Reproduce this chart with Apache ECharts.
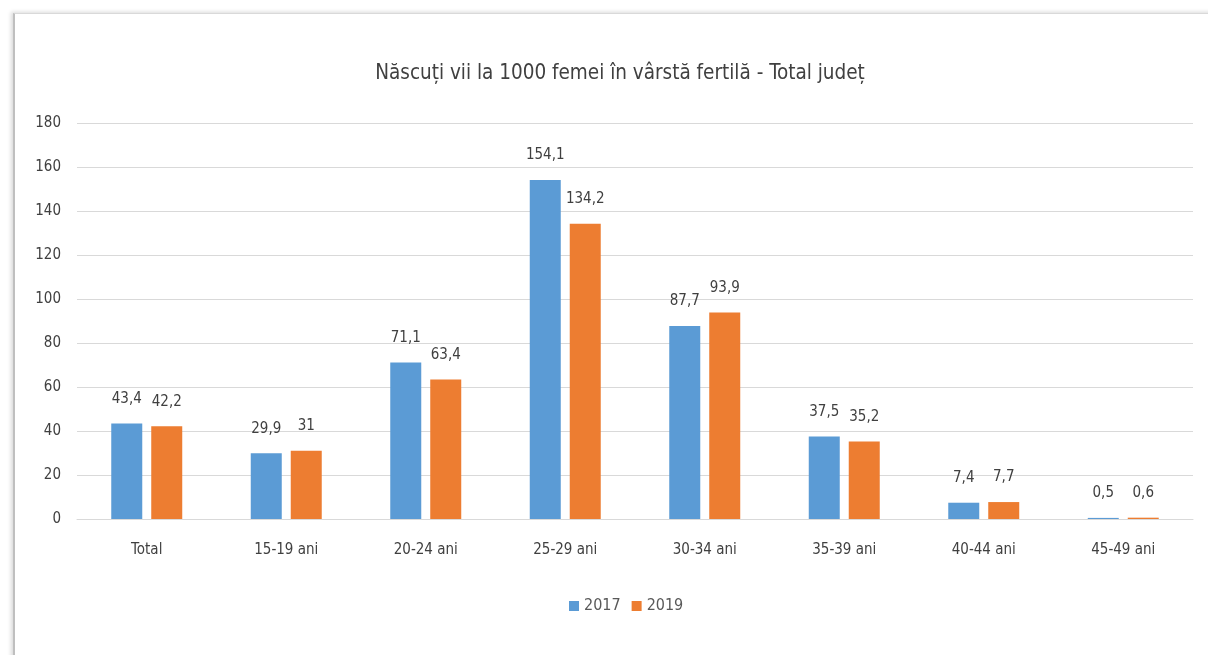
<!DOCTYPE html>
<html>
<head>
<meta charset="utf-8">
<script src="https://cdn.jsdelivr.net/npm/echarts@6/dist/echarts.min.js"></script>
<style>
  html, body { margin: 0; padding: 0; background: #fff; }
  .frame {
    position: absolute; left: 13px; top: 13px; width: 1210px; height: 660px;
    border-left: 2px solid #bfbfbf; border-top: 1px solid #d9d9d9;
    box-shadow: -2px -1px 4px rgba(0,0,0,0.15);
  }
  #main { position: absolute; left: 0; top: 0; width: 1208px; height: 655px; }
</style>
</head>
<body>
<div class="frame"></div>
<div id="main"></div>
<script>
var categories = ["Total", "15-19 ani", "20-24 ani", "25-29 ani", "30-34 ani", "35-39 ani", "40-44 ani", "45-49 ani"];
var values2017 = [43.4, 29.9, 71.1, 154.1, 87.7, 37.5, 7.4, 0.5];
var values2019 = [42.2, 31, 63.4, 134.2, 93.9, 35.2, 7.7, 0.6];

var font = '"Liberation Sans Narrow", "DejaVu Sans Condensed", sans-serif';

function fmt(p) {
  return String(p.value).replace(".", ",");
}

var myChart = echarts.init(document.getElementById("main"));
var option = {
  animation: false,
  title: {
    text: "Născuți vii la 1000 femei în vârstă fertilă - Total județ",
    left: 615,
    textAlign: "center",
    top: 58,
    textStyle: { fontFamily: font, fontSize: 20.5, fontWeight: "normal", color: "#404040" },
  },
  legend: {
    bottom: 36,
    left: 564,
    itemWidth: 10,
    itemHeight: 10,
    itemGap: 11,
    icon: "rect",
    textStyle: { fontFamily: font, fontSize: 16, color: "#595959" },
    data: ["2017", "2019"],
  },
  grid: { left: 77, right: 15, top: 123, bottom: 136, containLabel: false },
  xAxis: {
    type: "category",
    data: categories,
    axisLine: { show: true, lineStyle: { color: "#d9d9d9" } },
    axisTick: { show: false },
    axisLabel: { fontFamily: font, fontSize: 15, color: "#404040", margin: 24 },
  },
  yAxis: {
    type: "value",
    min: 0,
    max: 180,
    interval: 20,
    axisLine: { show: false },
    axisTick: { show: false },
    splitLine: { lineStyle: { color: "#d9d9d9" } },
    axisLabel: { fontFamily: font, fontSize: 15, color: "#404040", margin: 16 },
  },
  series: [
    {
      name: "2017",
      type: "bar",
      data: values2017,
      barWidth: 31,
      barGap: "29%",
      itemStyle: { color: "#5b9bd5" },
      label: { show: true, position: "top", distance: 17, formatter: fmt, fontFamily: font, fontSize: 15, color: "#404040" },
    },
    {
      name: "2019",
      type: "bar",
      data: values2019,
      barWidth: 31,
      itemStyle: { color: "#ed7d31" },
      label: { show: true, position: "top", distance: 17, formatter: fmt, fontFamily: font, fontSize: 15, color: "#404040" },
    },
  ],
};
myChart.setOption(option);
</script>
</body>
</html>
